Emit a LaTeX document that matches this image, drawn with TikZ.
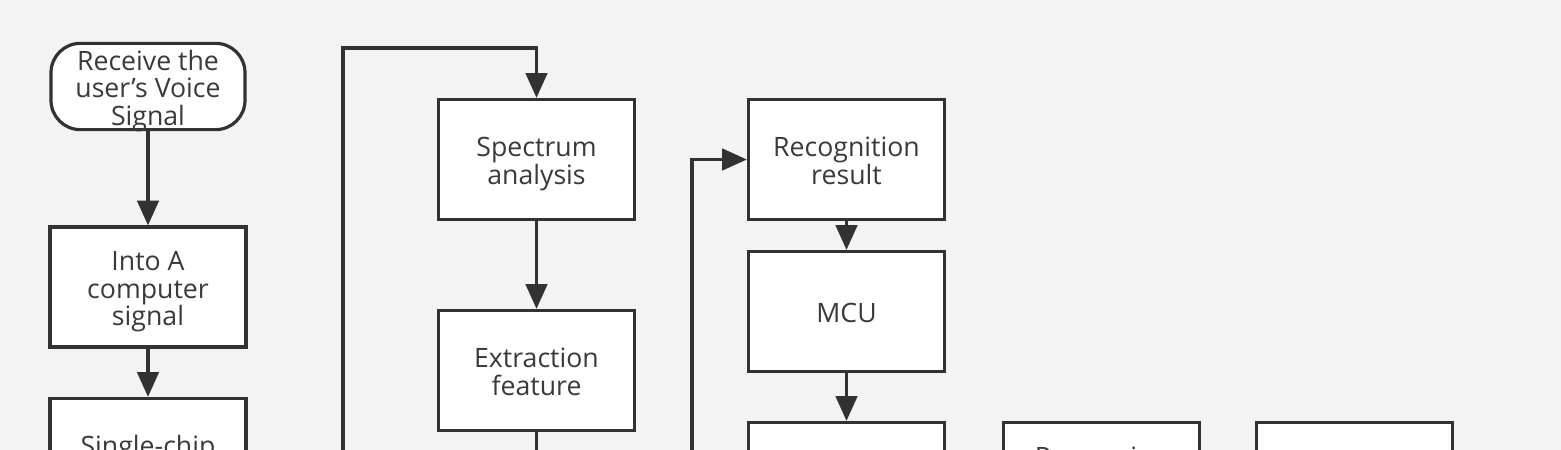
\documentclass[tikz,border=0pt]{standalone}
\usepackage{fontspec}
\setmainfont{Open Sans}
\usetikzlibrary{arrows.meta}
\definecolor{bg}{HTML}{F3F3F3}
\definecolor{ink}{HTML}{323232}
\definecolor{txt}{HTML}{3A3A3A}
\newcommand\topstrut{\rule{0pt}{20pt}}
\begin{document}
\begin{tikzpicture}[x=0.75pt,y=-0.75pt,
  box/.style={draw=ink,line width=2.4pt,fill=white,minimum width=147pt,minimum height=90pt,inner sep=0pt,align=center,text=txt,font=\fontsize{20}{20.7}\selectfont,text depth=3.3pt},
  term/.style={box,rounded corners=22pt,minimum width=145.5pt,minimum height=64.5pt},
  conn/.style={draw=ink,line width=2.4pt},
  arr/.style={conn,-{Triangle[length=18.5pt,width=16pt]}}]
\useasboundingbox (0,0) rectangle (1561,450);
\clip (0,0) rectangle (1561,450);
\fill[bg] (0,0) rectangle (1561,450);
\node[term] (start) at (148,86.5) {\topstrut Receive the\\user's Voice\\Signal};
\node[box] (into) at (148,287) {\topstrut Into A\\computer\\signal};
\node[box] (single) at (148,458.5) {\topstrut Single-chip\\\mbox{}};
\node[box] (spec) at (536.5,159.5) {\topstrut Spectrum\\analysis};
\node[box] (extr) at (536.5,370.5) {\topstrut Extraction\\feature};
\node[box] (rec) at (846.5,159.5) {\topstrut Recognition\\result};
\node[box] (mcu) at (846.5,311.5) {\topstrut MCU};
\node[box] (bthree) at (846.5,482.5) {};
\node[box] (bfour) at (1101.5,482.5) {\topstrut Processing\\\mbox{}\\\mbox{}};
\node[box] (bfive) at (1354.5,482.5) {};
\coordinate (loopL) at (343,480);
\coordinate (loopR) at (692,480);
\coordinate (extrOut) at (536.5,480);
\draw[arr] (start) -- (into);
\draw[arr] (into) -- (single);
\draw[arr] (spec) -- (extr);
\draw[arr] (rec) -- (mcu);
\draw[arr] (mcu) -- (bthree);
\draw[conn] (extr) -- (extrOut);
\draw[arr] (loopL) -- (343,48) -| (spec.north);
\draw[arr] (loopR) |- (rec.west);
\end{tikzpicture}
\end{document}
